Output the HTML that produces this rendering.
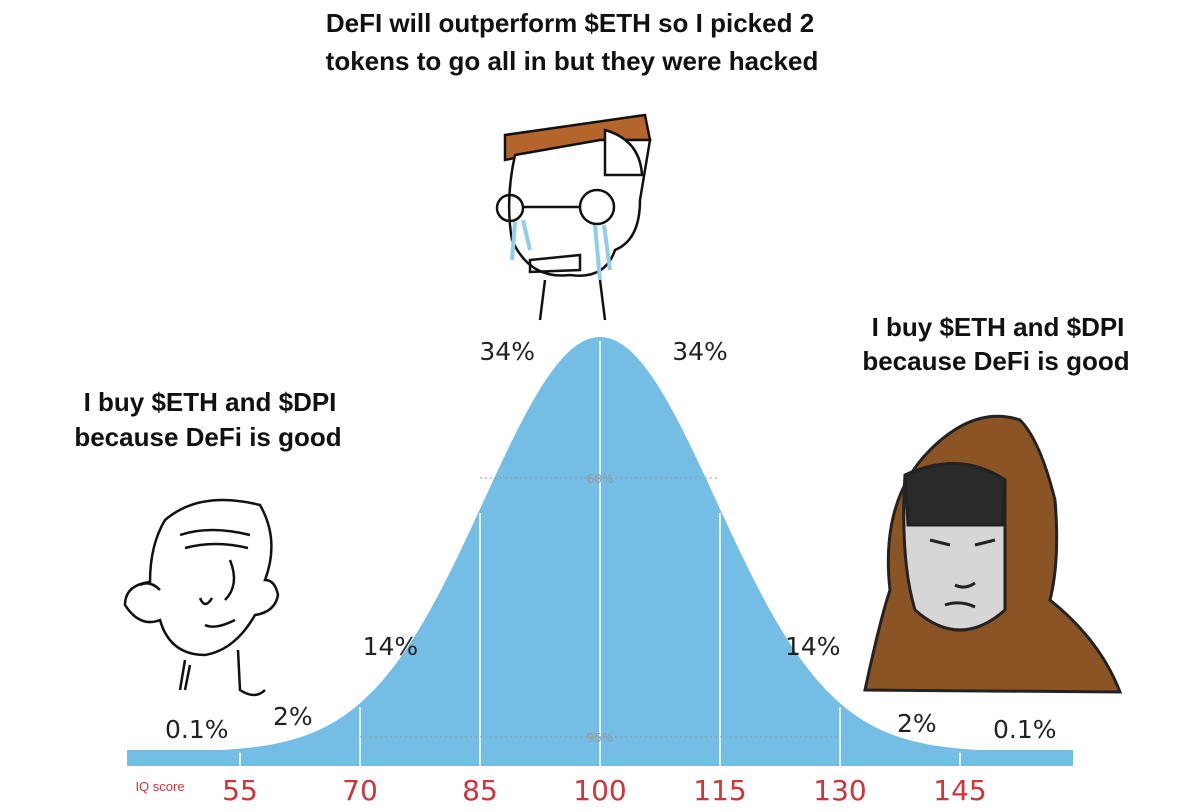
<!DOCTYPE html>
<html><head><meta charset="utf-8"><style>
body{margin:0;background:#fff;}
svg{display:block}
.cap{font-family:"Liberation Sans",sans-serif;font-weight:bold;font-size:26px;fill:#111;text-anchor:middle}
.pct{font-family:"DejaVu Sans","Liberation Sans",sans-serif;font-size:25px;fill:#222;text-anchor:middle}
.tick{font-family:"DejaVu Sans","Liberation Sans",sans-serif;font-size:28px;fill:#d0333a;text-anchor:middle}
</style></head><body>
<svg id="chart" width="1200" height="812" viewBox="0 0 1200 812">
<g id="curve"></g>
<g id="ticks"></g>
<g id="pcts"></g>
<text x="160" y="791" style="font-family:'Liberation Sans',sans-serif;font-size:13px;fill:#d0333a" text-anchor="middle">IQ score</text>
<text class="cap" x="570" y="32">DeFI will outperform $ETH so I picked 2</text>
<text class="cap" x="572" y="70">tokens to go all in but they were hacked</text>
<text class="cap" x="210" y="411">I buy $ETH and $DPI</text>
<text class="cap" x="208" y="446">because DeFi is good</text>
<text class="cap" x="998" y="336">I buy $ETH and $DPI</text>
<text class="cap" x="996" y="370">because DeFi is good</text>
<g fill="none" stroke="#111" stroke-width="2.5">
<path d="M165 520 Q200 490 260 505 Q280 540 265 580 Q275 580 278 595 Q275 612 255 615 Q235 650 205 655 Q170 655 160 620 Q140 628 125 605 Q125 585 150 582 Q150 545 165 520Z" fill="#fff"/>
<path d="M180 535 Q210 525 250 535 M185 548 Q215 540 248 548"/>
<path d="M140 585 Q150 580 160 590 M230 560 Q240 585 225 600 M200 598 Q205 610 212 598 M205 625 Q215 630 235 620"/>
<path d="M185 660 L180 690 M190 665 L185 690 M238 650 L240 690 Q255 700 265 690"/>
</g>
<g stroke="#111" stroke-width="2.5">
<path d="M505 135 L645 115 L650 140 L600 140 L505 160Z" fill="#b5652c"/>
<path d="M515 155 Q505 200 512 240 Q530 280 570 275 Q605 280 615 250 Q640 240 640 200 L650 140 L600 140 Z" fill="#fff"/>
<path d="M605 130 Q640 140 642 175 L605 175Z" fill="#fff"/>
<circle cx="510" cy="208" r="13" fill="none"/><circle cx="597" cy="207" r="17" fill="none"/>
<path d="M523 207 L580 207 M530 260 L580 255 L580 270 L530 272Z" fill="none"/>
<path d="M515 222 L512 260 M523 220 L530 250 M595 225 L600 280 M604 225 L610 270" stroke="#8fcdea" stroke-width="4" fill="none"/>
<path d="M545 280 L540 320 M600 280 L605 320" fill="none"/>
</g>
<g stroke="#222" stroke-width="3">
<path d="M865 690 Q880 620 890 590 Q880 500 930 450 Q975 405 1020 420 Q1040 440 1055 500 Q1060 560 1050 600 Q1100 640 1120 692Z" fill="#8b5424"/>
<path d="M905 475 Q960 450 1005 480 L1005 610 Q960 650 915 610 Q900 560 905 475Z" fill="#d6d6d6"/>
<path d="M905 475 Q960 450 1005 480 L1002 525 L908 525Z" fill="#2a2a2a"/>
<path d="M930 540 L950 545 M975 545 L995 540 M955 585 Q965 590 975 583 M945 605 Q960 600 975 607" fill="none"/>
</g>
</svg>
<script>
const ticks=[55,70,85,100,115,130,145];
const pctLabels=["0.1%","2%","14%","34%","34%","14%","2%","0.1%"];
const pctIQ=[49.6,61.6,73.8,88.4,112.5,126.6,139.6,153.1];
const pctY=[738,725,655,360,360,655,732,738];
const mean=100, sd=14.5, peakH=415;
const X=v=>600+(v-100)*8, base=752, Y=h=>base-h;
const ns="http://www.w3.org/2000/svg";
function mk(t,a,p){const e=document.createElementNS(ns,t);for(const k in a)e.setAttribute(k,a[k]);p.appendChild(e);return e;}
const cg=document.getElementById('curve');
let d=`M${X(mean-48)} ${base}`;
for(let v=mean-48;v<=mean+48;v+=0.5){d+=` L${X(v).toFixed(1)} ${Y(peakH*Math.exp(-0.5*((v-mean)/sd)**2)).toFixed(1)}`;}
d+=` L${X(mean+48)} ${base}Z`;
const p=mk('path',{d:d,fill:'#74bde4'},cg);


const bar=mk('rect',{x:127,y:750,width:946,height:16,fill:'#74bde4'},cg);


ticks.forEach(t=>{
  const h=peakH*Math.exp(-0.5*((t-mean)/sd)**2);
  const l=mk('line',{x1:X(t),x2:X(t),y1:Y(h)+4,y2:766,stroke:'#fff','stroke-width':2,opacity:0.8},cg);
  
  
  const tx=mk('text',{x:X(t),y:800,class:'tick'},document.getElementById('ticks'));
  tx.textContent=t;
  
  
});
[[85,115,478,"68%"],[70,130,737,"95%"]].forEach(r=>{
  const l=mk('line',{x1:X(r[0]),x2:X(r[1]),y1:r[2],y2:r[2],stroke:'#999','stroke-dasharray':'2 3','stroke-width':1},cg);
  
  
  const t=mk('text',{x:600,y:r[2]+5,'text-anchor':'middle','font-size':12,fill:'#999','font-family':'DejaVu Sans'},cg);
  t.textContent=r[3];
  
  
});
pctLabels.forEach((s,i)=>{
  const t=mk('text',{x:X(pctIQ[i]),y:pctY[i],class:'pct'},document.getElementById('pcts'));
  t.textContent=s;
  
  
});
</script>
</body></html>
